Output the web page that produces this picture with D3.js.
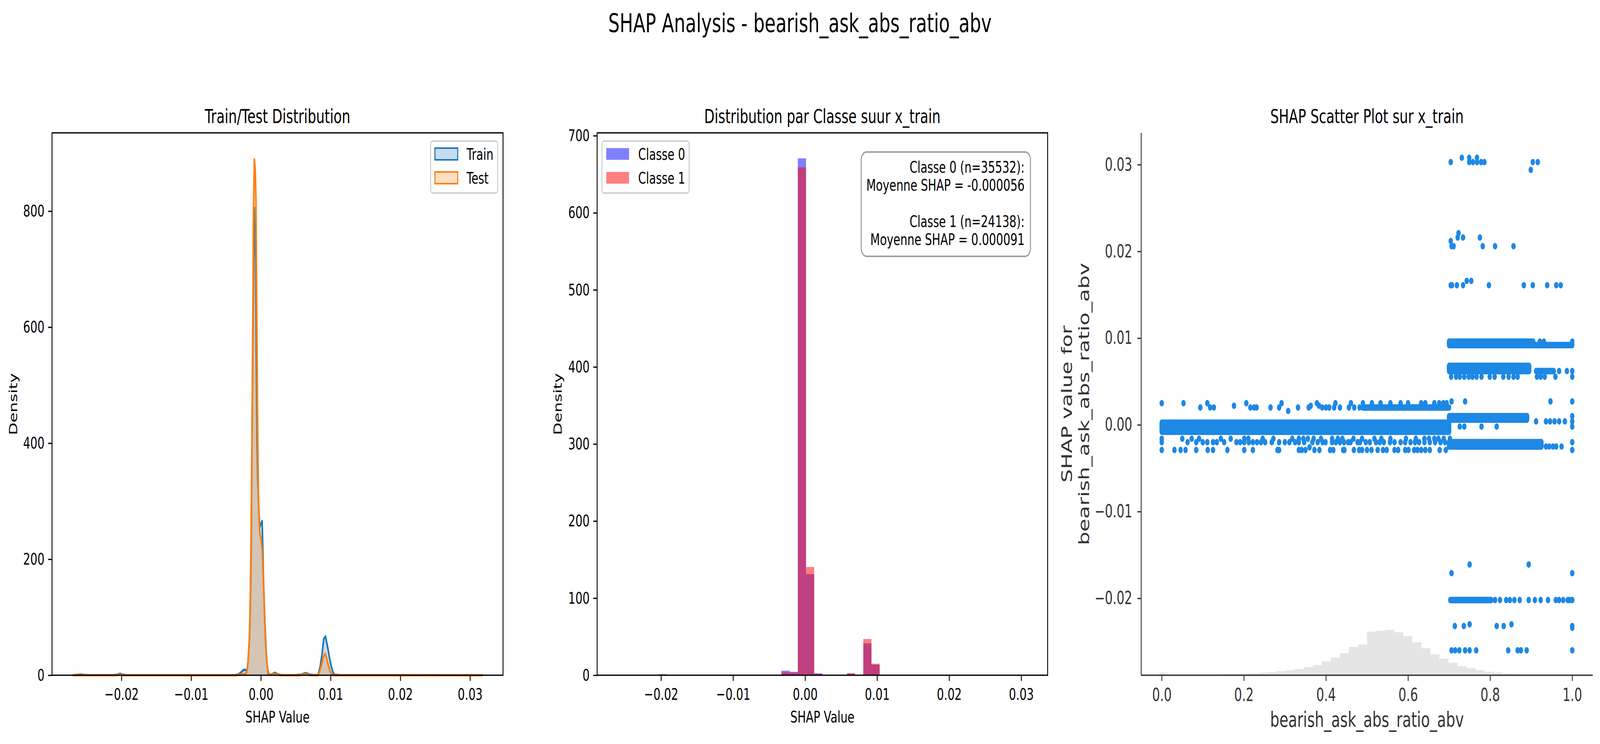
<!DOCTYPE html>
<html>
<head>
<meta charset="utf-8">
<script src="https://cdn.jsdelivr.net/npm/d3@7"></script>
<style>
  html, body { margin: 0; padding: 0; background: #fff; overflow: hidden; }
  svg { display: block; width: 100vw; height: 100vh; font-family: "DejaVu Sans", sans-serif; }
</style>
</head>
<body>
<div id="chart"></div>
<script>
// figure size (matplotlib figure saved at 300 dpi)
const FIG_W = 5967;
const FIG_H = 1904;
const FONT = 41.7;      // 10pt
const TITLE_FONT = 50;  // 12pt

// ---------- panel 1 : KDE of SHAP values, train vs test ----------
// [shap value, density]
const trainKde = [
  [-0.0270, 0], [-0.0263, 0.6], [-0.0259, 1.2], [-0.0255, 0.6], [-0.0248, 0.1],
  [-0.0212, 0.1], [-0.0207, 0.6], [-0.0202, 2.6], [-0.0197, 0.6], [-0.0190, 0],
  [-0.0045, 0], [-0.0036, 0.3], [-0.0032, 1.8], [-0.00286, 4.7], [-0.00255, 8.5],
  [-0.00235, 9.5], [-0.0021, 8.5], [-0.00196, 10.7], [-0.00184, 23.7], [-0.00164, 65],
  [-0.00152, 119], [-0.00139, 225], [-0.00126, 433], [-0.00113, 611], [-0.00096, 806],
  [-0.00087, 771], [-0.00075, 712], [-0.00066, 552], [-0.00055, 403], [-0.00045, 338],
  [-0.00032, 291], [-0.00017, 255], [0.0, 261], [0.00018, 266], [0.00028, 214],
  [0.00041, 148], [0.00058, 89], [0.00073, 47], [0.00089, 18], [0.00105, 3],
  [0.00125, 1.2], [0.0016, 1.5], [0.0020, 4.3], [0.0024, 1.5], [0.0029, 0.3],
  [0.0050, 0.2], [0.0058, 1.2], [0.0064, 3.8], [0.0070, 1.2], [0.0076, 0.3],
  [0.0082, 0.5], [0.0085, 14.8], [0.00876, 35.6], [0.00901, 62.3], [0.00926, 67],
  [0.00959, 47.4], [0.00985, 29.6], [0.0101, 14.8], [0.01036, 4.7], [0.01055, 0.8],
  [0.0115, 0.2], [0.0318, 0]
];
const testKde = [
  [-0.0270, 0], [-0.0210, 0], [-0.0202, 0.8], [-0.0195, 0], [-0.0036, 0],
  [-0.00286, 1.2], [-0.00235, 1.8], [-0.00203, 4.7], [-0.0019, 14.8], [-0.00171, 47.4],
  [-0.00158, 88.9], [-0.00145, 195.7], [-0.00132, 343.9], [-0.00119, 551.5], [-0.00107, 788.7],
  [-0.00094, 889.5], [-0.00081, 871.7], [-0.00071, 818.3], [-0.00062, 670.1], [-0.00049, 462.5],
  [-0.00036, 314.3], [-0.00027, 266.8], [-0.00014, 243.1], [0.00003, 234.2], [0.00019, 216.4],
  [0.00035, 166], [0.0005, 106.7], [0.00067, 53.4], [0.00083, 23.7], [0.00099, 8.9],
  [0.00118, 2.4], [0.00137, 0.6], [0.0016, 1.0], [0.0020, 2.2], [0.0025, 0.5],
  [0.0030, 0], [0.0055, 0], [0.0063, 2.0], [0.0071, 0], [0.00818, 0],
  [0.00843, 5.9], [0.00869, 17.8], [0.00895, 30.8], [0.0092, 37.5], [0.0094, 30.8],
  [0.00965, 17.8], [0.00991, 7.1], [0.01017, 1.2], [0.01049, 0], [0.0318, 0]
];
const kdeSeries = ["Train", "Test"];
const kdeXTicks = [-0.02, -0.01, 0.00, 0.01, 0.02, 0.03];
const kdeYTicks = [0, 200, 400, 600, 800];

// ---------- panel 2 : density histogram per class ----------
const HIST_MIN = -0.0260;   // first bin edge
const HIST_BIN = 0.001136;  // bin width (50 bins)
const class0Density = [
  0, 0, 0, 0, 0, 1.35, 0, 0, 0, 0,
  0, 0, 0, 0, 0, 0, 0, 0, 0, 0,
  5.9, 4.4, 670.6, 131.2, 2.37, 0, 0, 0, 1.86, 0,
  41.4, 13.7, 0, 0, 0, 0, 0, 0, 0, 0,
  0, 0, 0, 0, 0, 0, 0, 0, 0, 0
];
const class1Density = [
  0, 0, 0, 0, 0, 0.34, 0, 0, 0, 0,
  0, 0, 0, 0, 0, 0, 0, 0, 0, 0,
  3.9, 3.4, 658.9, 140.4, 1.86, 0, 0, 0, 2.87, 0,
  47.0, 15.0, 0, 0, 0, 0, 0, 0, 0, 0,
  0, 0, 0, 0, 0, 0, 0, 0, 0, 0
];
const classLabels = ["Classe 0", "Classe 1"];
const statsLines = [
  "Classe 0 (n=35532):",
  "Moyenne SHAP = -0.000056",
  "",
  "Classe 1 (n=24138):",
  "Moyenne SHAP = 0.000091"
];
const histYTicks = [0, 100, 200, 300, 400, 500, 600, 700];

// ---------- panel 3 : shap scatter ----------
const FEAT_BIN_MIN = -0.05;
const FEAT_BIN = 0.022;
// feature value histogram, % of rows per bin
const featureHistPct = [
  0, 0, 0.48, 0.02, 0.02, 0.05, 0.12, 0.12, 0.12, 0.19,
  0.19, 0.27, 0.38, 0.48, 0.55, 0.77, 0.91, 1.13, 1.49, 1.85,
  2.57, 3.22, 4.08, 5.24, 5.67, 8.05, 8.19, 8.36, 7.93, 7.20,
  6.05, 4.97, 3.82, 3.03, 2.31, 1.66, 1.30, 0.94, 0.65, 0.50,
  0.29, 0.22, 0.14, 0.07, 0.06, 0.05, 0.04, 0.11, 0, 0
];
// dense runs of overlapping dots: [x0, x1, shap0, shap1]
const shapBands = [
  [0.000, 0.700, -0.0008, 0.00025],
  [0.490, 0.700, 0.0020, 0.0020],
  [0.700, 0.905, 0.0092, 0.0096],
  [0.905, 1.000, 0.0092, 0.0092],
  [0.700, 0.895, 0.0062, 0.0068],
  [0.912, 0.955, 0.0062, 0.0062],
  [0.700, 0.890, 0.0006, 0.0010],
  [0.700, 0.925, -0.0025, -0.0020],
  [0.703, 0.803, -0.0202, -0.0202]
];
// single dots, grouped by shap value: [shap, [feature values]]
const shapDotRows = [
  [0.0308, [0.731, 0.749, 0.768]],
  [0.0303, [0.704, 0.749, 0.758, 0.768, 0.778, 0.786, 0.904, 0.916]],
  [0.0294, [0.899]],
  [0.0221, [0.723]],
  [0.0216, [0.721, 0.734, 0.775]],
  [0.0212, [0.704]],
  [0.0206, [0.706, 0.711, 0.782, 0.812, 0.857]],
  [0.0166, [0.743, 0.754]],
  [0.0161, [0.704, 0.707, 0.719, 0.734, 0.797, 0.882, 0.904, 0.939, 0.961, 0.972]],
  [0.0096, [0.921, 0.931, 1.0]],
  [0.0062, [0.968, 0.987, 1.0]],
  [0.00555, [0.705, 0.717, 0.726, 0.737, 0.748, 0.757, 0.767, 0.779, 0.799, 0.811,
             0.832, 0.845, 0.857, 0.867, 0.914, 0.923, 0.933, 0.959, 1.0]],
  [0.0027, [0.706, 0.739, 0.947, 1.0]],
  [0.0025, [0.000, 0.053, 0.111, 0.206, 0.292, 0.378, 0.423, 0.461, 0.490, 0.512,
            0.533, 0.557, 0.582, 0.600, 0.632, 0.642, 0.664, 0.676, 0.686, 0.694]],
  [0.0022, [0.176, 0.363, 0.383]],
  [0.0020, [0.094, 0.118, 0.127, 0.216, 0.225, 0.231, 0.265, 0.286, 0.332, 0.358,
            0.391, 0.400, 0.408, 0.420, 0.434, 0.456, 0.469, 0.482]],
  [0.0016, [0.308]],
  [0.0010, [1.0]],
  [0.0004, [0.912, 0.936, 0.946, 0.957, 0.968, 0.982, 1.0]],
  [-0.0002, [0.726, 0.737, 0.779, 0.816, 1.0]],
  [-0.0016, [0.000, 0.050, 0.073, 0.091, 0.144, 0.168, 0.201, 0.211, 0.246, 0.272,
             0.318, 0.334, 0.345, 0.356, 0.370, 0.388, 0.415, 0.429, 0.440, 0.467,
             0.488, 0.518, 0.535, 0.557, 0.595, 0.619, 0.640, 0.651, 0.664, 0.674,
             0.687, 0.702]],
  [-0.0020, [0.000, 0.063, 0.084, 0.100, 0.111, 0.125, 0.134, 0.152, 0.182, 0.191,
             0.201, 0.212, 0.222, 0.232, 0.242, 0.252, 0.268, 0.286, 0.300, 0.311,
             0.325, 0.334, 0.347, 0.367, 0.380, 0.392, 0.399, 0.415, 0.424, 0.434,
             0.444, 0.454, 0.460, 0.477, 0.483, 0.497, 0.507, 0.522, 0.531, 0.541,
             0.556, 0.567, 0.582, 0.593, 0.606, 0.617, 0.627, 0.640, 0.653, 0.666,
             0.679, 0.690, 1.0]],
  [-0.0025, [0.936, 0.944, 0.953, 0.961, 0.974]],
  [-0.0026, [0.360]],
  [-0.0029, [0.000, 0.031, 0.046, 0.058, 0.084, 0.112, 0.125, 0.160, 0.201, 0.222,
             0.282, 0.286, 0.334, 0.341, 0.350, 0.372, 0.384, 0.410, 0.418, 0.442,
             0.445, 0.468, 0.481, 0.488, 0.500, 0.511, 0.526, 0.539, 0.548, 0.567,
             0.576, 0.593, 0.601, 0.615, 0.623, 0.632, 0.642, 0.653, 0.677, 0.692, 1.0]],
  [-0.0161, [0.750, 0.894]],
  [-0.0171, [0.706, 1.0]],
  [-0.0202, [0.812, 0.824, 0.839, 0.848, 0.859, 0.872, 0.894, 0.909, 0.923, 0.941,
             0.960, 0.968, 0.978, 0.989, 0.994, 1.0]],
  [-0.0230, [0.750, 0.852]],
  [-0.0232, [0.714, 0.736, 0.816, 0.833, 1.0]],
  [-0.0234, [1.0]],
  [-0.0260, [0.706, 0.715, 0.725, 0.739, 0.750, 0.766, 0.844, 0.867, 0.875, 0.889, 1.0]]
];
const featXTicks = [0.0, 0.2, 0.4, 0.6, 0.8, 1.0];
const shapYTicks = [-0.02, -0.01, 0.00, 0.01, 0.02, 0.03];
const FEATURE = "bearish_ask_abs_ratio_abv";

// axes boxes in figure pixels
const P1 = { left: 194, right: 1876, top: 340, bottom: 1728 };
const P2 = { left: 2227, right: 3907, top: 340, bottom: 1728 };
const P3 = { left: 4256, right: 5940, top: 340, bottom: 1728 };

// the figure stretches over the whole window
const svg = d3.select("#chart")
  .append("svg")
  .attr("viewBox", `0 0 ${FIG_W} ${FIG_H}`)
  .attr("preserveAspectRatio", "none");

svg.append("rect").attr("width", FIG_W).attr("height", FIG_H).attr("fill", "#fff");

svg.append("text")
  .attr("x", FIG_W / 2)
  .attr("y", 82)
  .attr("text-anchor", "middle")
  .attr("font-size", 66.7)
  .text("SHAP Analysis - " + FEATURE);

// generic axis styling
function styleAxis(g, size, color) {
  g.attr("font-size", size)
    .attr("font-family", "DejaVu Sans, sans-serif");
  g.select(".domain").remove();
  g.selectAll(".tick line").attr("stroke", color).attr("stroke-width", 3.3);
  g.selectAll(".tick text").attr("fill", color);
}

function drawTitle(box, label) {
  svg.append("text")
    .attr("x", (box.left + box.right) / 2)
    .attr("y", box.top - 25)
    .attr("text-anchor", "middle")
    .attr("font-size", TITLE_FONT)
    .text(label);
}

function drawFrame(box) {
  svg.append("rect")
    .attr("x", box.left)
    .attr("y", box.top)
    .attr("width", box.right - box.left)
    .attr("height", box.bottom - box.top)
    .attr("fill", "none")
    .attr("stroke", "#000")
    .attr("stroke-width", 3.3);
}

function drawStdAxes(box, x, y, xTicks, yTicks, xFmt, yFmt) {
  svg.append("g")
    .attr("transform", `translate(0,${box.bottom})`)
    .call(d3.axisBottom(x).tickValues(xTicks).tickFormat(xFmt)
      .tickSize(14.6).tickPadding(18.8))
    .call(g => styleAxis(g, FONT, "#000"));
  svg.append("g")
    .attr("transform", `translate(${box.left},0)`)
    .call(d3.axisLeft(y).tickValues(yTicks).tickFormat(yFmt)
      .tickSize(14.6).tickPadding(13.4))
    .call(g => styleAxis(g, FONT, "#000"));
  svg.append("text")
    .attr("x", (box.left + box.right) / 2)
    .attr("y", 1849)
    .attr("text-anchor", "middle")
    .attr("font-size", FONT)
    .text("SHAP Value");
}

function drawYLabel(xPos, box, label) {
  svg.append("text")
    .attr("transform", `translate(${xPos},${(box.top + box.bottom) / 2}) rotate(-90)`)
    .attr("text-anchor", "middle")
    .attr("font-size", FONT)
    .text(label);
}

function legendFrame(x, y, w, h) {
  svg.append("rect")
    .attr("x", x).attr("y", y)
    .attr("width", w).attr("height", h)
    .attr("rx", 8)
    .attr("fill", "#fff").attr("fill-opacity", 0.8)
    .attr("stroke", "#cccccc").attr("stroke-width", 3.5);
}

// ---------- panel 1 ----------
function drawKdePanel() {
  const x = d3.scaleLinear().domain([-0.02996, 0.03473]).range([P1.left, P1.right]);
  const y = d3.scaleLinear().domain([0, 935]).range([P1.bottom, P1.top]);
  const colors = ["#1f77b4", "#ff7f0e"];

  const area = d3.area().x(d => x(d[0])).y0(y(0)).y1(d => y(d[1]));
  const line = d3.line().x(d => x(d[0])).y(d => y(d[1]));

  [trainKde, testKde].forEach((series, i) => {
    svg.append("path")
      .datum(series)
      .attr("d", area)
      .attr("fill", colors[i])
      .attr("fill-opacity", 0.25);
    svg.append("path")
      .datum(series)
      .attr("d", line)
      .attr("fill", "none")
      .attr("stroke", colors[i])
      .attr("stroke-width", 6)
      .attr("stroke-linejoin", "round");
  });

  drawFrame(P1);
  drawStdAxes(P1, x, y, kdeXTicks, kdeYTicks, d3.format(".2f"), d3.format("d"));
  drawYLabel(64, P1, "Density");
  drawTitle(P1, "Train/Test Distribution");

  // legend
  legendFrame(1606, 361, 250, 133);
  kdeSeries.forEach((name, i) => {
    const cy = 394 + i * 61;
    svg.append("rect")
      .attr("x", 1622).attr("y", cy - 15)
      .attr("width", 85).attr("height", 30)
      .attr("fill", colors[i]).attr("fill-opacity", 0.25)
      .attr("stroke", colors[i]).attr("stroke-width", 4);
    svg.append("text")
      .attr("x", 1740).attr("y", cy + 15)
      .attr("font-size", FONT)
      .text(name);
  });
}

// ---------- panel 2 ----------
function drawHistPanel() {
  const x = d3.scaleLinear().domain([-0.02887, 0.03367]).range([P2.left, P2.right]);
  const y = d3.scaleLinear().domain([0, 703.7]).range([P2.bottom, P2.top]);
  const colors = ["#0000ff", "#ff0000"];

  [class0Density, class1Density].forEach((dens, c) => {
    const bins = dens.map((v, i) => ({ x0: HIST_MIN + i * HIST_BIN, x1: HIST_MIN + (i + 1) * HIST_BIN, v }))
      .filter(d => d.v > 0);
    svg.append("g")
      .selectAll("rect")
      .data(bins)
      .enter()
      .append("rect")
      .attr("x", d => x(d.x0))
      .attr("y", d => y(d.v))
      .attr("width", d => x(d.x1) - x(d.x0))
      .attr("height", d => y(0) - y(d.v))
      .attr("fill", colors[c])
      .attr("fill-opacity", 0.5);
  });

  drawFrame(P2);
  drawStdAxes(P2, x, y, kdeXTicks, histYTicks, d3.format(".2f"), d3.format("d"));
  drawYLabel(2095, P2, "Density");
  drawTitle(P2, "Distribution par Classe suur x_train");

  legendFrame(2245, 361, 325, 133);
  classLabels.forEach((name, i) => {
    const cy = 394 + i * 61;
    svg.append("rect")
      .attr("x", 2261).attr("y", cy - 15)
      .attr("width", 85).attr("height", 30)
      .attr("fill", colors[i]).attr("fill-opacity", 0.5);
    svg.append("text")
      .attr("x", 2380).attr("y", cy + 15)
      .attr("font-size", FONT)
      .text(name);
  });

  // statistics box
  svg.append("rect")
    .attr("x", 3212).attr("y", 389)
    .attr("width", 631).attr("height", 267)
    .attr("rx", 20)
    .attr("fill", "#fff").attr("fill-opacity", 0.8)
    .attr("stroke", "#a0a0a0").attr("stroke-width", 4);
  svg.append("g")
    .selectAll("text")
    .data(statsLines)
    .enter()
    .append("text")
    .attr("x", 3821)
    .attr("y", (d, i) => 442 + i * 46.2)
    .attr("text-anchor", "end")
    .attr("font-size", FONT)
    .text(d => d);
}

// ---------- panel 3 ----------
function drawScatterPanel() {
  const x = d3.scaleLinear().domain([-0.05, 1.05]).range([P3.left, P3.right]);
  const y = d3.scaleLinear().domain([-0.02887, 0.03367]).range([P3.bottom, P3.top]);
  const yHist = d3.scaleLinear().domain([0, 100]).range([P3.bottom, P3.top]);
  const dotColor = "#1E88E5";
  const r = 8.3;
  const ink = "#333333";

  // feature distribution in the background
  const bins = featureHistPct.map((v, i) => ({ x0: FEAT_BIN_MIN + i * FEAT_BIN, x1: FEAT_BIN_MIN + (i + 1) * FEAT_BIN, v }))
    .filter(d => d.v > 0);
  svg.append("g")
    .selectAll("rect")
    .data(bins)
    .enter()
    .append("rect")
    .attr("x", d => x(d.x0))
    .attr("y", d => yHist(d.v))
    .attr("width", d => x(d.x1) - x(d.x0) + 0.5)
    .attr("height", d => yHist(0) - yHist(d.v))
    .attr("fill", "#e5e5e5");

  // dense runs
  svg.append("g")
    .selectAll("rect")
    .data(shapBands)
    .enter()
    .append("rect")
    .attr("x", d => x(d[0]) - r)
    .attr("y", d => y(d[3]) - r)
    .attr("width", d => x(d[1]) - x(d[0]) + 2 * r)
    .attr("height", d => y(d[2]) - y(d[3]) + 2 * r)
    .attr("rx", r)
    .attr("fill", dotColor);

  // single dots
  const dots = shapDotRows.flatMap(([s, xs]) => xs.map(v => [v, s]));
  svg.append("g")
    .selectAll("circle")
    .data(dots)
    .enter()
    .append("circle")
    .attr("cx", d => x(d[0]))
    .attr("cy", d => y(d[1]))
    .attr("r", r)
    .attr("fill", dotColor);

  // spines: left + bottom only
  svg.append("line")
    .attr("x1", P3.left).attr("x2", P3.left)
    .attr("y1", P3.top).attr("y2", P3.bottom)
    .attr("stroke", ink).attr("stroke-width", 3.3);
  svg.append("line")
    .attr("x1", P3.left).attr("x2", P3.right)
    .attr("y1", P3.bottom).attr("y2", P3.bottom)
    .attr("stroke", ink).attr("stroke-width", 3.3);

  svg.append("g")
    .attr("transform", `translate(0,${P3.bottom})`)
    .call(d3.axisBottom(x).tickValues(featXTicks).tickFormat(d3.format(".1f"))
      .tickSize(14.6).tickPadding(18.9))
    .call(g => styleAxis(g, 45.8, ink));
  svg.append("g")
    .attr("transform", `translate(${P3.left},0)`)
    .call(d3.axisLeft(y).tickValues(shapYTicks).tickFormat(d3.format(".2f"))
      .tickSize(14.6).tickPadding(19))
    .call(g => styleAxis(g, 45.8, ink));

  svg.append("text")
    .attr("x", (P3.left + P3.right) / 2)
    .attr("y", 1860)
    .attr("text-anchor", "middle")
    .attr("font-size", 54.2)
    .attr("fill", ink)
    .text(FEATURE);

  const midY = (P3.top + P3.bottom) / 2;
  [["SHAP value for", 3998], [FEATURE, 4061]].forEach(([label, xPos]) => {
    svg.append("text")
      .attr("transform", `translate(${xPos},${midY}) rotate(-90)`)
      .attr("text-anchor", "middle")
      .attr("font-size", 54.2)
      .attr("fill", ink)
      .text(label);
  });

  drawTitle(P3, "SHAP Scatter Plot sur x_train");
}

drawKdePanel();
drawHistPanel();
drawScatterPanel();
</script>
</body>
</html>
